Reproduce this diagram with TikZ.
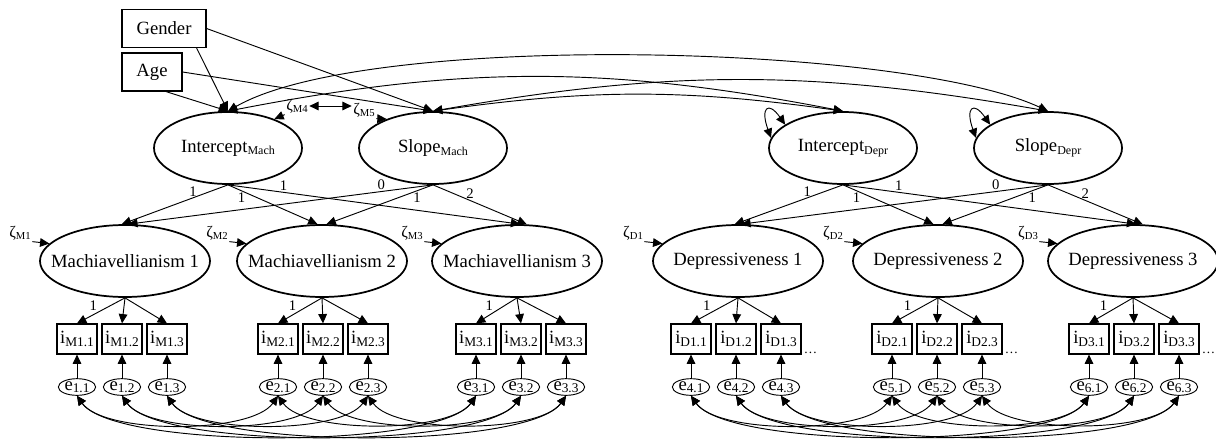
\documentclass[tikz,border=0pt]{standalone}
\usepackage{fontspec}
\setmainfont{Liberation Serif}
\usepackage{tikz}
\usetikzlibrary{calc,shapes,arrows.meta}
\tikzstyle{latent}=[ellipse,draw=black,line width=1.3pt,inner xsep=-12pt,inner ysep=0pt,
                    minimum width=127.5pt,minimum height=54pt,font=\fontsize{14}{16}\selectfont]
\tikzstyle{growth}=[latent,minimum width=111pt]
\tikzstyle{itembox}=[rectangle,draw=black,line width=0.9pt,inner sep=0pt,
                     minimum width=30pt,minimum height=22.5pt,font=\fontsize{14}{16}\selectfont]
\tikzstyle{errnode}=[ellipse,draw=black,line width=0.7pt,inner sep=0pt,
                     minimum width=28pt,minimum height=12.5pt,font=\fontsize{14}{16}\selectfont]
\tikzstyle{covbox}=[rectangle,draw=black,line width=0.9pt,inner sep=0pt,
                    minimum height=28.5pt,font=\fontsize{14}{16}\selectfont]
\tikzstyle{reg}=[-{Triangle[length=7pt,width=6.5pt]},line width=0.7pt]
\tikzstyle{cov}=[{Triangle[length=7pt,width=6.5pt]}-{Triangle[length=7pt,width=6.5pt]},line width=0.7pt]
\tikzstyle{loadlabel}=[font=\fontsize{11}{12}\selectfont,inner sep=1pt]
\tikzstyle{zetalabel}=[inner sep=1pt]
\newcommand\lowsub[2][9]{\raisebox{-0.3ex}{\fontsize{#1}{#1}\selectfont #2}}
\newcommand\zlab[1]{{\fontsize{12}{12}\selectfont ζ\lowsub[8]{#1}}}
\newcommand\growthrow{148}
\newcommand\latentrow{261}
\newcommand\itemrow{339}
\newcommand\errrow{387}

\begin{document}
\begin{tikzpicture}[x=0.75pt,y=-0.75pt]
    \useasboundingbox (0,0) rectangle (1216,439);
    \node [covbox,minimum width=63pt] (gender) at (164,28.5) {Gender};
    \node [covbox,minimum width=45pt] (age) at (152,72) {Age};
    \node [growth] (im) at (228,\growthrow) {Intercept\lowsub{Mach}};
    \node [growth] (sm) at (433,\growthrow) {Slope\lowsub{Mach}};
    \node [growth] (id) at (843,\growthrow) {Intercept\lowsub{Depr}};
    \node [growth] (sd) at (1048,\growthrow) {Slope\lowsub{Depr}};
    \node [zetalabel] (zm4) at (297,106) {\zlab{M4}};
    \node [zetalabel] (zm5) at (364,110) {\zlab{M5}};
    \draw [cov] (zm4.east) -- (zm4.east -| zm5.west);
    \draw [reg] (zm4.south west) -- (im.32);
    \draw [reg] (zm5.south east) -- (sm.148);
    \draw [reg] ($(gender.south east)+(-10,0)$) -- (im.north);
    \draw [reg] ($(age.south)+(14,0)$) -- (im.north);
    \draw [reg] (gender.east) -- (sm.north);
    \draw [reg] (age.east) -- (sm.north);
    \draw [cov] (im.north) to[out=30,in=155,looseness=0.5] (sd.north);
    \draw [cov] (im.north) to[bend left=11] (id.north);
    \draw [cov] (sm.north) to[bend left=10] (sd.north);
    \draw [cov] (sm.north) to[bend left=8] (id.north);
    \draw [cov] (id.172) .. controls +(110:24pt) and +(125:22pt) .. (id.158);
    \draw [cov] (sd.172) .. controls +(110:24pt) and +(125:22pt) .. (sd.158);
    \foreach \g/\lx/\ix/\txt/\ip/\ep in {m1/125/122/Machiavellianism 1/M1/1,
        m2/322/323/Machiavellianism 2/M2/2, m3/517/521/Machiavellianism 3/M3/3,
        d1/738/736/Depressiveness 1/D1/4, d2/938/937/Depressiveness 2/D2/5,
        d3/1133/1134/Depressiveness 3/D3/6}{
    	\node [latent] (\g) at (\lx,\latentrow) {\txt};
    	\node [zetalabel] (z\g) at (\lx-105,233) {\zlab{\ip}};
    	\draw [reg] (z\g.south east) -- (\g.167);
    	\foreach \k/\dx in {1/-45,2/0,3/45}{
    		\node [itembox] (\g i\k) at (\ix+\dx,\itemrow) {i\lowsub[10]{\ip.\k}};
    		\node [errnode] (\g e\k) at (\ix+\dx,\errrow) {e\lowsub[10]{\ep.\k}};
    		\draw [reg] (\g.south) -- (\g i\k.north);
    		\draw [reg] (\g e\k.north) -- (\g i\k.south);
    	}
    	\path (\g.south) -- (\g i1.north) node [loadlabel,pos=0.55,above left=0pt] {1};
    }
    \foreach \g in {d1,d2,d3}{
    	\node [anchor=base west,inner sep=0pt,font=\fontsize{10}{12}\selectfont] (dots\g)
    		at ($(\g i3.south east)+(2,-1)$) {\dots};
    }
    \foreach \b/\i/\s in {m/im/sm,d/id/sd}{
    	\draw [reg] (\i.south) -- (\b1.95) node [loadlabel,pos=0.33,above] {1};
    	\draw [reg] (\i.south) -- (\b2.97) node [loadlabel,pos=0.15,below] {1};
    	\draw [reg] (\i.south) -- (\b3.85) node [loadlabel,pos=0.19,above] {1};
    	\draw [reg] (\s.south) -- (\b1.85) node [loadlabel,pos=0.17,above] {0};
    	\draw [reg] (\s.south) -- (\b2.83) node [loadlabel,pos=0.15,below] {1};
    	\draw [reg] (\s.south) -- (\b3.75) node [loadlabel,pos=0.35,above right=-1pt] {2};
    	\foreach \k in {1,2,3}{
    		\draw [cov] (\b1e\k.south) to[out=-55,in=-125,looseness=0.6] (\b2e\k.south);
    		\draw [cov] (\b1e\k.south) to[out=-55,in=-125,looseness=0.42] (\b3e\k.south);
    		\draw [cov] (\b2e\k.south) to[out=-55,in=-125,looseness=0.6] (\b3e\k.south);
    	}
    }
\end{tikzpicture}
\end{document}
